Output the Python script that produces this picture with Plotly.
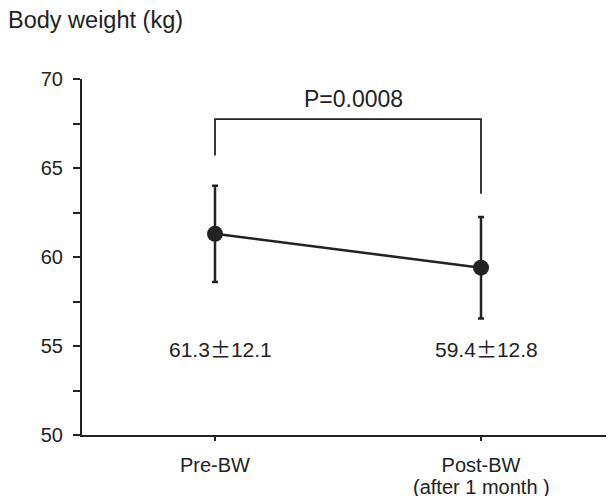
import plotly.graph_objects as go

# ---- data ----
categories = ["Pre-BW", "Post-BW"]
tick_labels = ["Pre-BW", "Post-BW"]
sub_labels = ["", "(after 1 month )"]
means = [61.3, 59.4]
err = [2.7, 2.85]
stat_means = ["61.3", "59.4"]
stat_sds = ["12.1", "12.8"]
p_label = "P=0.0008"
bracket_x = [0, 0, 1, 1]
bracket_y = [65.7, 67.75, 67.75, 63.55]
y_ticks = [50, 52.5, 55, 57.5, 60, 62.5, 65, 67.5, 70]
y_ticktext = ["50", "", "55", "", "60", "", "65", "", "70"]

ink = "#222222"
font = "Liberation Sans, Arial, sans-serif"
xpos = list(range(len(categories)))

# page body has an 8px margin, so the figure is sized to end at the window edge
W, H = 606, 488

fig = go.Figure()
fig.add_trace(go.Scatter(
    x=xpos, y=means, mode="lines+markers",
    line=dict(color=ink, width=2.5),
    marker=dict(color=ink, size=16),
    error_y=dict(type="data", array=err, visible=True, color=ink,
                 thickness=2.5, width=3),
    showlegend=False, hoverinfo="skip",
))
fig.add_trace(go.Scatter(
    x=bracket_x, y=bracket_y, mode="lines",
    line=dict(color=ink, width=1.8),
    showlegend=False, hoverinfo="skip",
))

pm = "<span style='font-family:Noto Sans CJK JP'>\u00b1</span>"
for i in range(len(stat_means)):
    fig.add_annotation(x=xpos[i] + 0.02, y=54.9,
                       text=stat_means[i] + pm + stat_sds[i], showarrow=False,
                       font=dict(size=21, color=ink, family=font),
                       xanchor="center", yanchor="middle")
for i, s in enumerate(sub_labels):
    if s:
        fig.add_annotation(x=xpos[i], y=-0.147, yref="paper", text=s,
                           showarrow=False,
                           font=dict(size=20, color=ink, family=font),
                           xanchor="center", yanchor="middle")

fig.add_annotation(x=0.52, y=68.85, text=p_label, showarrow=False,
                   font=dict(size=23, color=ink, family=font),
                   xanchor="center", yanchor="middle")

fig.update_layout(
    width=W, height=H,
    margin=dict(l=74, r=0, t=71, b=61),
    paper_bgcolor="white", plot_bgcolor="white",
    font=dict(family=font, color=ink),
    title=dict(text="Body weight (kg)", x=0, xanchor="left",
               xref="container", y=1 - 12 / H, yanchor="middle",
               yref="container", pad=dict(l=0, r=0, t=0, b=0),
               font=dict(size=23.5, color=ink, family=font)),
)
fig.update_xaxes(
    range=[-0.5, 1.5], tickvals=xpos, ticktext=tick_labels,
    showline=True, linecolor=ink, linewidth=2,
    ticks="outside", ticklen=4, tickwidth=1.5, tickcolor=ink,
    showgrid=False, zeroline=False,
    tickfont=dict(size=20, color=ink, family=font),
    ticklabelstandoff=7,
)
fig.update_yaxes(
    range=[50, 70], tickvals=y_ticks, ticktext=y_ticktext,
    showline=True, linecolor=ink, linewidth=2,
    ticks="outside", ticklen=7, tickwidth=2, tickcolor=ink,
    showgrid=False, zeroline=False,
    tickfont=dict(size=20, color=ink, family=font),
    ticklabelstandoff=6,
)

fig.write_html("out.html")
